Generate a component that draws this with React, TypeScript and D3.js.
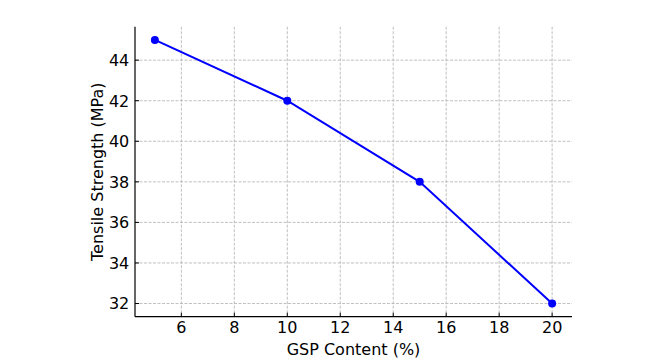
import React from "react";
import * as d3 from "d3";

const gspContent = [5, 10, 15, 20];
const tensileStrength = [45, 42, 38, 32];
const xTicks = [6, 8, 10, 12, 14, 16, 18, 20];
const yTicks = [32, 34, 36, 38, 40, 42, 44];

const W = 649, H = 363;
const left = 135, right = 572, top = 26.7, bottom = 316.7;

export default function App() {
  const x = d3.scaleLinear().domain([4.25, 20.75]).range([left, right]);
  const y = d3.scaleLinear().domain([31.35, 45.65]).range([bottom, top]);
  const line = d3.line<number>().x((_, i) => x(gspContent[i])).y((d) => y(d));
  const font = "'DejaVu Sans', sans-serif";
  return (
    <svg width={W} height={H} style={{ position: "absolute", left: 0, top: 0, background: "#fff" }}>
      <g>
        {xTicks.map((t) => (
          <line key={"gx" + t} x1={x(t)} x2={x(t)} y1={top} y2={bottom} stroke="#b0b0b0" strokeWidth={0.8} strokeDasharray="3,1.5" />
        ))}
        {yTicks.map((t) => (
          <line key={"gy" + t} x1={left} x2={right} y1={y(t)} y2={y(t)} stroke="#b0b0b0" strokeWidth={0.8} strokeDasharray="3,1.5" />
        ))}
      </g>
      <path d={line(tensileStrength) || ""} fill="none" stroke="#0000ff" strokeWidth={2} />
      {tensileStrength.map((v, i) => (
        <circle key={i} cx={x(gspContent[i])} cy={y(v)} r={4} fill="#0000ff" />
      ))}
      <line x1={left} x2={right} y1={bottom} y2={bottom} stroke="#000" strokeWidth={1.2} />
      <line x1={left} x2={left} y1={top} y2={bottom} stroke="#000" strokeWidth={1.2} />
      {xTicks.map((t) => (
        <g key={"xt" + t}>
          <line x1={x(t)} x2={x(t)} y1={bottom} y2={bottom - 4} stroke="#000" strokeWidth={1} />
          <text x={x(t)} y={bottom + 16.6} textAnchor="middle" fontFamily={font} fontSize={16} fill="#000">{t}</text>
        </g>
      ))}
      {yTicks.map((t) => (
        <g key={"yt" + t}>
          <line x1={left} x2={left + 4} y1={y(t)} y2={y(t)} stroke="#000" strokeWidth={1} />
          <text x={left - 5.7} y={y(t) + 5.8} textAnchor="end" fontFamily={font} fontSize={16} fill="#000">{t}</text>
        </g>
      ))}
      <text x={(left + right) / 2} y={355} textAnchor="middle" fontFamily={font} fontSize={16} fill="#000">GSP Content (%)</text>
      <text transform={`translate(103,${(top + bottom) / 2}) rotate(-90)`} textAnchor="middle" fontFamily={font} fontSize={16} fill="#000">Tensile Strength (MPa)</text>
    </svg>
  );
}
